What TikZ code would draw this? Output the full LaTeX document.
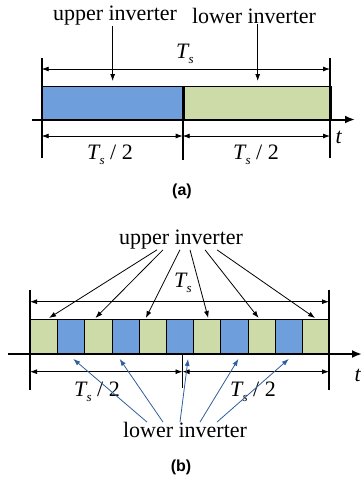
\documentclass[tikz,border=0pt]{standalone}
\usepackage{fontspec}
\setmainfont{Liberation Serif}
\newfontfamily\capfont{Liberation Sans}
\usepackage{xcolor}
\usepackage{tikz}
\usetikzlibrary{arrows.meta,positioning,calc}
\definecolor{invblue}{RGB}{110,158,219}
\definecolor{invgreen}{RGB}{204,219,168}
\definecolor{darrow}{RGB}{47,95,154}
\newcommand{\Ts}{\textit{T}\kern-1pt\raisebox{-0.5ex}{\fontsize{13}{13}\selectfont\textit{s}}}

\begin{document}
\begin{tikzpicture}[x=1pt,y=-1pt,
    lbl/.style={font=\fontsize{22}{24}\selectfont,inner sep=0pt},
    subcap/.style={font=\capfont\bfseries\fontsize{16}{18}\selectfont,inner sep=0pt},
    blk/.style={draw=black,line width=0.9pt,inner sep=0pt,anchor=north west},
    dim/.style={line width=0.8pt,{Latex[length=7pt,width=5pt]}-{Latex[length=7pt,width=5pt]}},
    pt/.style={line width=0.8pt,-{Latex[length=7pt,width=5pt]}},
    tick/.style={line width=1.6pt},
    axis/.style={line width=2pt,-{Latex[length=10pt,width=8pt]}}]
  \useasboundingbox (0,0) rectangle (363,483);
  % (a)
  \node[blk,fill=invblue,minimum width=141pt,minimum height=33.5pt] (upA) at (41.7,86) {};
  \node[blk,fill=invgreen,minimum width=147.3pt,minimum height=33.5pt] (loA) at (upA.north east) {};
  \draw[tick] (41.7,58) -- (41.7,158) (330,58) -- (330,158) (182.7,86) -- (182.7,160);
  \draw[axis] (32,119.5) -- (355,119.5);
  \draw[dim] (41.7,69) -- (330,69);
  \draw[dim] (41.7,136) -- (182.7,136);
  \draw[dim] (182.7,136) -- (330,136);
  \node[lbl] (tsA) at (185,54) {\Ts};
  \node[lbl] (hA1) at (110,155) {\Ts\ / 2};
  \node[lbl] (hA2) at (256,155) {\Ts\ / 2};
  \node[lbl] (tA) at (339,137) {\textit{t}};
  \node[lbl] (upTxtA) at (115,16) {upper inverter};
  \node[lbl] (loTxtA) at (254,16) {lower inverter};
  \draw[pt] (upTxtA.south -| upA.north) -- ([yshift=5pt]upA.north);
  \draw[pt] (loTxtA.south -| loA.north) -- ([yshift=5pt]loA.north);
  \node[subcap] (capA) at (182,191) {(a)};
  % (b)
  \foreach \i in {0,2,...,10}
    \node[blk,fill=invgreen,minimum width=27.2pt,minimum height=35pt] (b\i) at (30+27.2*\i,319) {};
  \foreach \i in {1,3,...,9}
    \node[blk,fill=invblue,minimum width=27.2pt,minimum height=35pt] (b\i) at (30+27.2*\i,319) {};
  \draw[tick] (30,290) -- (30,390) (329,290) -- (329,390) (182.5,354) -- (182.5,388);
  \draw[axis] (8,354) -- (362,354);
  \draw[dim] (30,301.7) -- (329,301.7);
  \draw[dim] (30,371.7) -- (182.5,371.7);
  \draw[dim] (182.5,371.7) -- (329,371.7);
  \node[lbl] (tsB) at (183,283) {\Ts};
  \node[lbl] (hB1) at (97,392) {\Ts\ / 2};
  \node[lbl] (hB2) at (253,392) {\Ts\ / 2};
  \node[lbl] (tB) at (358,375) {\textit{t}};
  \node[lbl] (upTxtB) at (181,240) {upper inverter};
  \node[lbl] (loTxtB) at (185,430) {lower inverter};
  \foreach \b/\s/\e in {0/-24/5,2/-18/-3,4/-1/-7,6/9/1,8/24/-3,10/36/-1}
    \draw[pt] ([xshift=\s pt]upTxtB.south) -- ([xshift=\e pt,yshift=1pt]b\b.north);
  \foreach \b/\s/\e in {1/-38/2,3/-22/-6,5/-5/8,7/15/4,9/32/0}
    \draw[pt,darrow] ([xshift=\s pt]loTxtB.north) -- ([xshift=\e pt,yshift=-4pt]b\b.south);
  \node[subcap] (capB) at (181,467) {(b)};
\end{tikzpicture}
\end{document}
